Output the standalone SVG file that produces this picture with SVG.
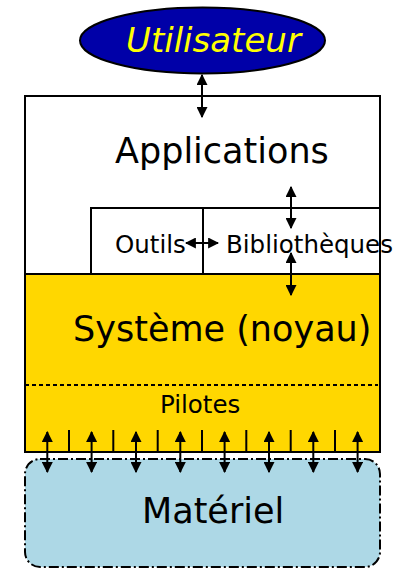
<svg xmlns="http://www.w3.org/2000/svg" width="394" height="568" viewBox="0 0 394 568">
<style>
.t{font-family:"DejaVu Sans",sans-serif;fill:#000}
.big{font-size:35px}
.sm{font-size:24.5px}
.box{stroke:#000;stroke-width:2}
.c{stroke:#000;stroke-width:2;fill:none}
</style>
<defs>
<marker id="ah" viewBox="0 0 10 10" refX="9" refY="5" markerWidth="5.5" markerHeight="5.5" orient="auto-start-reverse" markerUnits="strokeWidth">
<path d="M0,0 L10,5 L0,10 z" fill="#000"/>
</marker>
</defs>
<g id="applications">
<rect class="box" x="25" y="96" width="355" height="178" fill="#fff"/>
<text class="t big" x="115" y="163">Applications</text>
</g>
<g id="outils">
<rect class="box" x="91" y="208" width="112" height="66" fill="#fff" stroke-width="1.6"/>
<text class="t sm" x="115" y="253">Outils</text>
</g>
<g id="bibliotheques">
<rect class="box" x="203" y="208" width="177" height="66" fill="#fff" stroke-width="1.6"/>
<text class="t sm" x="226" y="253">Bibliothèques</text>
</g>
<g id="systeme">
<rect class="box" x="25" y="274" width="355" height="178" fill="#ffd700"/>
<text class="t big" x="73" y="341">Système (noyau)</text>
<line x1="25" y1="385" x2="378" y2="385" stroke="#000" stroke-width="2" stroke-dasharray="4,3"/>
</g>
<g id="pilotes">
<text class="t sm" x="160" y="413">Pilotes</text>
<g stroke="#000" stroke-width="2">
<line x1="69" y1="430" x2="69" y2="452"/>
<line x1="113.3" y1="430" x2="113.3" y2="452"/>
<line x1="157.7" y1="430" x2="157.7" y2="452"/>
<line x1="202" y1="430" x2="202" y2="452"/>
<line x1="246.3" y1="430" x2="246.3" y2="452"/>
<line x1="290.7" y1="430" x2="290.7" y2="452"/>
<line x1="335" y1="430" x2="335" y2="452"/>
</g>
</g>
<g id="materiel">
<rect x="25" y="459" width="355" height="108" rx="15" ry="15" fill="#add8e6" stroke="#000" stroke-width="2" stroke-dasharray="10,3,2,3"/>
<text class="t big" x="142" y="523">Matériel</text>
</g>
<g id="utilisateur">
<ellipse cx="202.5" cy="40.5" rx="122.5" ry="33" fill="#0000a8" stroke="#000" stroke-width="2"/>
<text class="t" x="126" y="52" font-size="34" font-style="italic" fill="#ffff00" style="fill:#ffff00">Utilisateur</text>
</g>
<g id="connectors">
<line class="c" x1="202" y1="75" x2="202" y2="117" marker-start="url(#ah)" marker-end="url(#ah)"/>
<line class="c" x1="291" y1="187" x2="291" y2="228" marker-start="url(#ah)" marker-end="url(#ah)"/>
<line class="c" x1="291" y1="253" x2="291" y2="295" marker-start="url(#ah)" marker-end="url(#ah)"/>
<line class="c" x1="186" y1="243" x2="218" y2="243" stroke-width="1.4" marker-start="url(#ah)" marker-end="url(#ah)"/>
<line class="c" x1="47.3" y1="432" x2="47.3" y2="472" marker-start="url(#ah)" marker-end="url(#ah)"/>
<line class="c" x1="91.6" y1="432" x2="91.6" y2="472" marker-start="url(#ah)" marker-end="url(#ah)"/>
<line class="c" x1="136" y1="432" x2="136" y2="472" marker-start="url(#ah)" marker-end="url(#ah)"/>
<line class="c" x1="180.3" y1="432" x2="180.3" y2="472" marker-start="url(#ah)" marker-end="url(#ah)"/>
<line class="c" x1="224.6" y1="432" x2="224.6" y2="472" marker-start="url(#ah)" marker-end="url(#ah)"/>
<line class="c" x1="269" y1="432" x2="269" y2="472" marker-start="url(#ah)" marker-end="url(#ah)"/>
<line class="c" x1="313.3" y1="432" x2="313.3" y2="472" marker-start="url(#ah)" marker-end="url(#ah)"/>
<line class="c" x1="357.6" y1="432" x2="357.6" y2="472" marker-start="url(#ah)" marker-end="url(#ah)"/>
</g>
</svg>
